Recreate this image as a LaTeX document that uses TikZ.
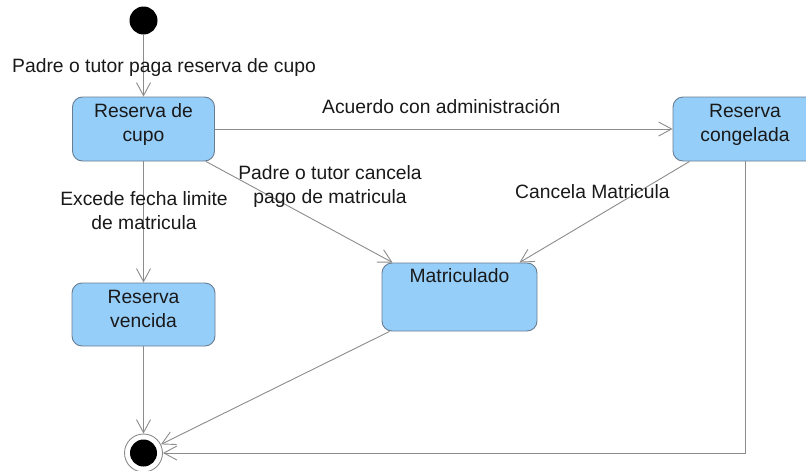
\documentclass[tikz,border=0pt]{standalone}
\usepackage{fontspec}
\setmainfont{Liberation Sans}
\usetikzlibrary{arrows.meta,calc}
\definecolor{statefill}{RGB}{150,206,250}
\definecolor{stateline}{RGB}{105,125,145}
\definecolor{linegray}{RGB}{140,140,140}
\definecolor{txt}{RGB}{25,25,25}
\begin{document}
\begin{tikzpicture}[x=1pt,y=-1pt,
  statebox/.style={draw=stateline, fill=statefill, rounded corners=10pt, line width=0.9pt, inner sep=0pt},
  boxtext/.style={anchor=base, align=center, font=\fontsize{19.3}{24}\selectfont, text=txt, inner sep=0pt},
  lbl/.style={anchor=base, font=\fontsize{19.3}{24}\selectfont, text=txt, inner sep=0pt},
  trans/.style={draw=linegray, line width=0.9pt, -{Straight Barb[length=13pt,width=14pt,line width=0.9pt]}},
]
\useasboundingbox (0,0) rectangle (806,471);
\clip (0,0) rectangle (806,471);
\fill[white] (0,0) rectangle (806,471);

% states
\node[circle, fill=black, minimum size=28pt, inner sep=0pt] (start) at (143.5,20.5) {};
\node[statebox, minimum width=142pt, minimum height=64pt] (cupo) at (143.5,129) {};
\node[statebox, minimum width=144pt, minimum height=64pt] (cong) at (745,129) {};
\node[statebox, minimum width=143pt, minimum height=63pt] (venc) at (143.5,314.5) {};
\node[statebox, minimum width=155pt, minimum height=68pt] (mat) at (459.5,297) {};
\node[circle, draw=linegray, fill=white, line width=0.9pt, minimum size=38pt, inner sep=0pt,
  path picture={\fill[black] (path picture bounding box.center) circle[radius=13.5pt];}] (end) at (143.5,453) {};

% state texts (base anchor = baseline of the last line)
\node[boxtext] (cupoT) at ($(cupo.north)+(0,45)$) {Reserva de\\cupo};
\node[boxtext] (congT) at ($(cong.north)+(0,45)$) {Reserva\\congelada};
\node[boxtext] (vencT) at ($(venc.north)+(0,45)$) {Reserva\\vencida};
\node[boxtext] (matT) at ($(mat.north)+(0,20)$) {Matriculado};

% transitions
\draw[trans] (start) -- (cupo);
\draw[trans] (cupo) -- (cong);
\draw[trans] ($(cupo.south east)+(-9,0)$) -- ($(mat.north west)+(11,0)$);
\draw[trans] ($(cong.south west)+(17,0)$) -- ($(mat.north east)+(-18,0)$);
\draw[trans] (cupo) -- (venc);
\draw[trans] (venc) -- (end);
\draw[trans] ($(mat.south west)+(8,0)$) -- (end);
\draw[trans] (cong.south) |- (end);

% transition labels
\node[lbl, anchor=base west] (l1) at (12,72) {Padre o tutor paga reserva de cupo};
\node[lbl, anchor=base west] (l2) at (322,113) {Acuerdo con administración};
\node[lbl, align=center] (l3) at (330,203) {Padre o tutor cancela\\pago de matricula};
\node[lbl, align=center] (l4) at (144,229) {Excede fecha limite\\de matricula};
\node[lbl, anchor=base west] (l5) at (515,198) {Cancela Matricula};
\end{tikzpicture}
\end{document}
